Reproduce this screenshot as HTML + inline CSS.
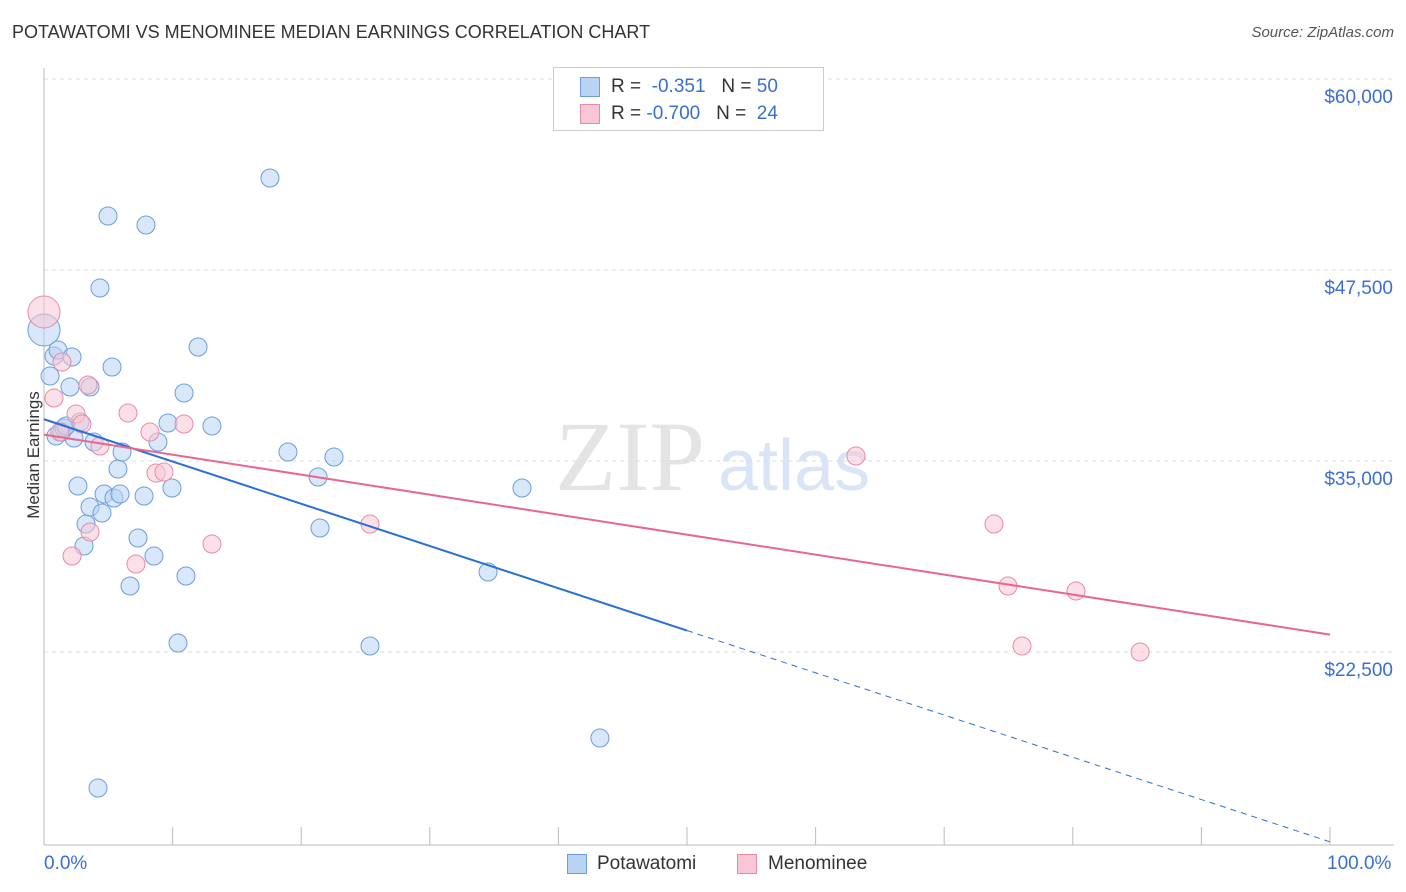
<!DOCTYPE html>
<html><head><meta charset="utf-8">
<style>
body{margin:0;background:#fff;font-family:"Liberation Sans",sans-serif;}
#wrap{position:relative;width:1406px;height:892px;overflow:hidden;}
.t{position:absolute;white-space:nowrap;}
</style></head>
<body><div id="wrap">
<div class="t" style="left:12px;top:22px;font-size:18px;color:#333;">POTAWATOMI VS MENOMINEE MEDIAN EARNINGS CORRELATION CHART</div>
<div class="t" style="right:12px;top:24px;font-size:15px;color:#555;font-style:italic;">Source: ZipAtlas.com</div>
<div class="t" style="left:-30px;top:445px;font-size:17px;color:#333;transform:rotate(-90deg);">Median Earnings</div>
<svg id="svg" width="1406" height="892" style="position:absolute;left:0;top:0"></svg>
<div style="position:absolute;left:553px;top:67px;width:269px;height:62px;border:1px solid #ccc;background:#fff;font-size:19px;">
 <div style="position:absolute;left:26px;top:9px;width:18px;height:18px;background:#b8d3f4;border:1px solid #6b9ee0"></div>
 <div class="t" style="left:57px;top:8px;color:#333">R = &nbsp;<span style="color:#3a6fd0">-0.351</span> &nbsp;&nbsp;N = <span style="color:#3a6fd0">50</span></div>
 <div style="position:absolute;left:26px;top:36px;width:18px;height:18px;background:#f9c6d5;border:1px solid #e98aa6"></div>
 <div class="t" style="left:57px;top:35px;color:#333">R = <span style="color:#3a6fd0">-0.700</span> &nbsp;&nbsp;N = &nbsp;<span style="color:#3a6fd0">24</span></div>
</div>
<div>
 <div style="position:absolute;left:567px;top:854px;width:18px;height:18px;background:#b8d3f4;border:1px solid #6b9ee0"></div>
 <div class="t" style="left:597px;top:853px;font-size:19px;color:#333">Potawatomi</div>
 <div style="position:absolute;left:737px;top:854px;width:18px;height:18px;background:#f9c6d5;border:1px solid #e98aa6"></div>
 <div class="t" style="left:768px;top:853px;font-size:19px;color:#333">Menominee</div>
</div>
<div class="t" style="left:44px;top:853px;font-size:19px;color:#3a6fd0">0.0%</div>
<div class="t" style="left:1327px;top:853px;font-size:19px;color:#3a6fd0">100.0%</div>
</div>
<script>
const yTicks=[60000,47500,35000,22500];
const yTickLabels=["$60,000","$47,500","$35,000","$22,500"];
const blueX=[0,0.47,0.78,1.09,0.93,1.4,1.56,2.02,2.18,2.33,2.64,2.8,3.27,3.11,3.58,3.58,3.89,4.35,4.51,4.67,4.98,5.29,5.44,5.75,5.91,6.07,6.69,7.31,7.78,7.93,8.55,8.86,9.64,9.95,10.42,10.89,11.04,11.98,13.06,17.57,18.97,21.31,21.46,22.55,25.35,34.53,37.17,43.23,4.2,1.71];
const blueY=[43573,40562,41871,42264,36636,36898,37160,39843,41806,36505,33364,37552,30877,29437,39843,31990,36243,46322,31597,32840,51034,41152,32579,34476,32840,35589,26819,29961,32709,50445,28783,36243,37487,33233,23089,39450,27474,42461,37291,53521,35589,33953,30615,35262,22893,27736,33233,16872,13600,37291];
const pinkX=[0,0.78,1.4,2.18,2.49,2.95,3.42,3.58,4.35,6.53,7.15,8.24,8.71,9.33,10.89,13.06,25.35,63.14,73.87,74.96,76.05,80.25,85.23,1.24];
const pinkY=[44751,39123,41479,28783,38076,37421,39973,30353,35981,38141,28259,36898,34214,34280,37421,29568,30877,35327,30877,26819,22893,26492,22500,36898];
const NS="http://www.w3.org/2000/svg";
const svg=document.getElementById('svg');
const xs=v=>44+v*12.86;
const ys=v=>79+(60000-v)/12500*191;
function el(tag,a){const e=document.createElementNS(NS,tag);for(const k in a)e.setAttribute(k,a[k]);svg.appendChild(e);return e;}
// watermark
let w=el('text',{x:555,y:490,'font-size':100,fill:'#e4e4e4','font-family':'Liberation Serif,serif'});w.textContent='ZIP';


let w2=el('text',{x:718,y:490,'font-size':72,fill:'#d9e5f6','font-family':'Liberation Sans,sans-serif'});w2.textContent='atlas';


yTicks.forEach((v,i)=>{
 const g=el('line',{x1:44,x2:1394,y1:ys(v),y2:ys(v),stroke:'#ddd','stroke-dasharray':'4,4'});
 
 
 const t=el('text',{x:1393,y:ys(v)+24,'text-anchor':'end','font-size':19,fill:'#3a6fd0','font-family':'Liberation Sans,sans-serif'});
 t.textContent=yTickLabels[i];
 
 
});
el('line',{x1:44,x2:44,y1:68,y2:845,stroke:'#bbb'});
el('line',{x1:44,x2:1394,y1:845,y2:845,stroke:'#bbb'});
for(let i=0;i<=10;i++){const tk=el('line',{x1:xs(i*10),x2:xs(i*10),y1:827,y2:845,stroke:'#bbb'});
 
 }
function reg(X,Y){const n=X.length;let mx=0,my=0;for(let i=0;i<n;i++){mx+=X[i];my+=Y[i];}mx/=n;my/=n;let sxy=0,sxx=0;for(let i=0;i<n;i++){sxy+=(X[i]-mx)*(Y[i]-my);sxx+=(X[i]-mx)**2;}const b=sxy/sxx;return [my-b*mx,b];}
function dots(X,Y,fill,stroke,name){X.forEach((x,i)=>{const big=(x===0);const c=el('circle',{cx:xs(x),cy:ys(Y[i]),r:big?16:9,fill:fill,'fill-opacity':0.55,stroke:stroke,'stroke-width':1});
 
 });}
dots(blueX,blueY,'#b8d3f4','#6b9ee0','potawatomi-point');
dots(pinkX,pinkY,'#f9c6d5','#e98aa6','menominee-point');
const [ba,bb]=reg(blueX,blueY);
const bl=el('line',{x1:xs(0),y1:ys(ba),x2:xs(50),y2:ys(ba+bb*50),stroke:'#2a6fd6','stroke-width':2});


const bd=el('line',{x1:xs(50),y1:ys(ba+bb*50),x2:xs(100),y2:ys(ba+bb*100),stroke:'#2a6fd6','stroke-width':1,'stroke-dasharray':'6,5'});


const [pa,pb]=reg(pinkX,pinkY);
const pl=el('line',{x1:xs(0),y1:ys(pa),x2:xs(100),y2:ys(pa+pb*100),stroke:'#e8678f','stroke-width':2});


</script>
</body></html>
